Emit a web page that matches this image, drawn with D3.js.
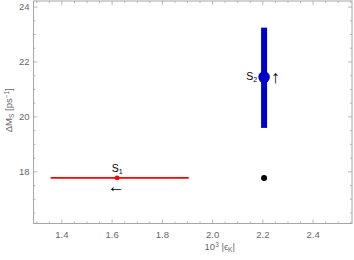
<!DOCTYPE html>
<html>
<head>
<meta charset="utf-8">
<script src="https://cdn.jsdelivr.net/npm/d3@7"></script>
<style>
  body { margin: 0; background: #fff; }
  text { font-family: "Liberation Sans", Arial, sans-serif; }
</style>
</head>
<body>
<div id="chart"></div>
<script>
const width = 354;
const height = 260;

// data
const xTicks = [1.4, 1.6, 1.8, 2.0, 2.2, 2.4];
const yTicks = [18, 20, 22, 24];
const s1 = { x: 1.62, y: 17.78, xLo: 1.355, xHi: 1.905 };
const s2 = { x: 2.205, y: 21.45, yLo: 19.6, yHi: 23.25 };
const sm = { x: 2.205, y: 17.78 };

(function main(){
    const margin = { left: 33.5, right: 2, top: 1, bottom: 36.5 };

    const svg = d3.select("#chart")
        .append("svg")
        .attr("width", width)
        .attr("height", height);

    const xScale = d3.scaleLinear()
        .domain([1.287, 2.555])
        .range([margin.left, width - margin.right]);

    const yScale = d3.scaleLinear()
        .domain([16.12, 24.22])
        .range([height - margin.bottom, margin.top]);

    const x0 = xScale.range()[0], x1 = xScale.range()[1];
    const y0 = yScale.range()[0], y1 = yScale.range()[1];
    const frame = "#a6a6a6";

    // frame
    svg.append("rect")
        .attr("x", x0).attr("y", y1)
        .attr("width", x1 - x0).attr("height", y0 - y1)
        .attr("fill", "none").attr("stroke", frame).attr("stroke-width", 1);

    // ticks (inward, all four sides)
    const xMinor = d3.range(1.3, 2.56, 0.05);
    const yMinor = d3.range(16.5, 24.2, 0.5);
    const isMajorX = v => xTicks.some(t => Math.abs(t - v) < 1e-6);
    const isMajorY = v => yTicks.some(t => Math.abs(t - v) < 1e-6);
    const tk = svg.append("g").attr("stroke", frame).attr("stroke-width", 0.8);
    xMinor.forEach(v => {
        const len = isMajorX(v) ? 4 : 2;
        tk.append("line").attr("x1", xScale(v)).attr("x2", xScale(v)).attr("y1", y0).attr("y2", y0 - len);
        tk.append("line").attr("x1", xScale(v)).attr("x2", xScale(v)).attr("y1", y1).attr("y2", y1 + len);
    });
    yMinor.forEach(v => {
        const len = isMajorY(v) ? 4 : 2;
        tk.append("line").attr("y1", yScale(v)).attr("y2", yScale(v)).attr("x1", x0).attr("x2", x0 + len);
        tk.append("line").attr("y1", yScale(v)).attr("y2", yScale(v)).attr("x1", x1).attr("x2", x1 - len);
    });

    // tick labels
    svg.append("g").selectAll("text")
        .data(xTicks).join("text")
        .attr("x", d => xScale(d)).attr("y", y0 + 14)
        .attr("text-anchor", "middle")
        .attr("font-size", 9.5).attr("fill", "#666")
        .text(d => d.toFixed(1));
    svg.append("g").selectAll("text")
        .data(yTicks).join("text")
        .attr("x", x0 - 4).attr("y", d => yScale(d) + 3.3)
        .attr("text-anchor", "end")
        .attr("font-size", 9.5).attr("fill", "#666")
        .text(d => d);

    // axis labels
    const xl = svg.append("text")
        .attr("x", (x0 + x1) / 2 + 27).attr("y", 250)
        .attr("text-anchor", "middle").attr("font-size", 9.5).attr("fill", "#666");
    xl.append("tspan").text("10");
    xl.append("tspan").attr("dy", -3.5).attr("font-size", 6.5).text("3");
    xl.append("tspan").attr("dy", 3.5).text(" |ϵ");
    xl.append("tspan").attr("dy", 2).attr("font-size", 6.5).text("K");
    xl.append("tspan").attr("dy", -2).text("|");

    const yl = svg.append("text")
        .attr("transform", `translate(12, ${(y0 + y1) / 2 - 2}) rotate(-90)`)
        .attr("text-anchor", "middle").attr("font-size", 9.5).attr("fill", "#666");
    yl.append("tspan").text("ΔM");
    yl.append("tspan").attr("dy", 2).attr("font-size", 6.5).text("S");
    yl.append("tspan").attr("dy", -2).text(" [ps");
    yl.append("tspan").attr("dy", -3.5).attr("font-size", 6.5).text("−1");
    yl.append("tspan").attr("dy", 3.5).text("]");

    // S1: red horizontal range
    svg.append("line")
        .attr("x1", xScale(s1.xLo)).attr("x2", xScale(s1.xHi))
        .attr("y1", yScale(s1.y)).attr("y2", yScale(s1.y))
        .attr("stroke", "#f00").attr("stroke-width", 1.6);
    svg.append("circle")
        .attr("cx", xScale(s1.x)).attr("cy", yScale(s1.y)).attr("r", 2.4)
        .attr("fill", "#f00");

    // S2: blue vertical range
    svg.append("line")
        .attr("x1", xScale(s2.x)).attr("x2", xScale(s2.x))
        .attr("y1", yScale(s2.yLo)).attr("y2", yScale(s2.yHi))
        .attr("stroke", "#0000cc").attr("stroke-width", 6);
    svg.append("circle")
        .attr("cx", xScale(s2.x)).attr("cy", yScale(s2.y)).attr("r", 5.8)
        .attr("fill", "#0000cc");

    // SM point
    svg.append("circle")
        .attr("cx", xScale(sm.x)).attr("cy", yScale(sm.y)).attr("r", 3)
        .attr("fill", "#000");

    // labels and arrows
    const l1 = svg.append("text")
        .attr("x", xScale(s1.x)).attr("y", yScale(s1.y) - 6)
        .attr("text-anchor", "middle").attr("font-size", 10.5).attr("fill", "#000");
    l1.append("tspan").text("S");
    l1.append("tspan").attr("dy", 2).attr("font-size", 7).text("1");
    svg.append("text")
        .attr("x", xScale(s1.x) - 1).attr("y", yScale(s1.y) + 14)
        .attr("text-anchor", "middle").attr("font-size", 17).attr("fill", "#000")
        .attr("font-family", "DejaVu Sans")
        .text("←");

    const l2 = svg.append("text")
        .attr("x", xScale(s2.x) - 7).attr("y", yScale(s2.y) + 3)
        .attr("text-anchor", "end").attr("font-size", 10.5).attr("fill", "#000");
    l2.append("tspan").text("S");
    l2.append("tspan").attr("dy", 2).attr("font-size", 7).text("2");
    svg.append("text")
        .attr("x", xScale(s2.x) + 7).attr("y", yScale(s2.y) + 6)
        .attr("font-size", 18).attr("fill", "#000")
        .attr("font-family", "DejaVu Sans")
        .text("↑");
})();
</script>
</body>
</html>
